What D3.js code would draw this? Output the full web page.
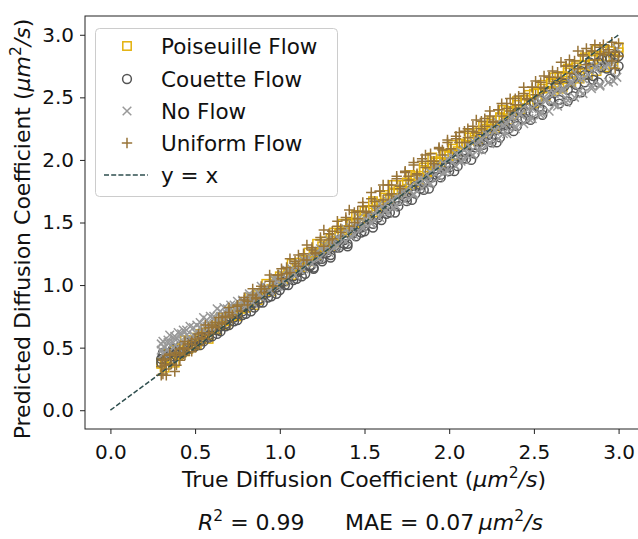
<!DOCTYPE html>
<html>
<head>
<meta charset="utf-8">
<script src="https://cdn.jsdelivr.net/npm/d3@7/dist/d3.min.js"></script>
<style>
html,body{margin:0;padding:0;background:#fff;}
svg{display:block;font-family:"DejaVu Sans",sans-serif;}
text{white-space:pre;}
</style>
</head>
<body>
<svg id="chart" width="638" height="539"></svg>
<script>
// ---------- data ----------
const seriesNames = ["Poiseuille Flow", "Couette Flow", "No Flow", "Uniform Flow"];
const tickValues = [0.0, 0.5, 1.0, 1.5, 2.0, 2.5, 3.0];
const identityLine = [[0, 0], [3, 3]];

// true values (x) and two runs of predictions (y) per flow type
const poiseuilleX = [0.30,0.32,0.34,0.36,0.38,0.40,0.42,0.44,0.46,0.49,0.51,0.53,0.56,0.58,0.60,0.63,0.65,0.68,0.70,0.72,0.75,0.77,0.80,0.82,0.85,0.87,0.90,0.92,0.95,0.97,1.00,1.02,1.05,1.07,1.10,1.12,1.15,1.17,1.20,1.22,1.25,1.27,1.30,1.32,1.35,1.37,1.40,1.42,1.45,1.47,1.50,1.52,1.55,1.57,1.60,1.62,1.65,1.67,1.70,1.72,1.75,1.77,1.80,1.82,1.85,1.87,1.90,1.92,1.95,1.97,2.00,2.02,2.05,2.07,2.10,2.12,2.15,2.17,2.20,2.22,2.25,2.27,2.30,2.32,2.35,2.37,2.40,2.42,2.45,2.47,2.50,2.52,2.55,2.57,2.60,2.62,2.65,2.67,2.70,2.72,2.75,2.77,2.80,2.82,2.85,2.87,2.90,2.92,2.95,2.97,3.00];
const poiseuilleYa = [0.37,0.41,0.45,0.40,0.48,0.44,0.50,0.47,0.55,0.53,0.58,0.56,0.62,0.60,0.66,0.64,0.68,0.72,0.71,0.77,0.76,0.81,0.82,0.85,0.90,0.88,0.94,0.95,0.97,1.03,1.02,1.06,1.09,1.08,1.15,1.14,1.20,1.19,1.26,1.24,1.31,1.29,1.37,1.34,1.41,1.42,1.44,1.50,1.49,1.55,1.53,1.60,1.58,1.65,1.63,1.70,1.69,1.74,1.76,1.75,1.82,1.80,1.87,1.85,1.92,1.91,1.96,1.99,1.98,2.04,2.03,2.09,2.07,2.13,2.12,2.18,2.16,2.22,2.21,2.25,2.29,2.27,2.34,2.31,2.39,2.36,2.44,2.40,2.48,2.44,2.53,2.48,2.57,2.52,2.62,2.55,2.66,2.58,2.70,2.62,2.74,2.65,2.76,2.68,2.80,2.71,2.83,2.74,2.82,2.77,2.86];
const poiseuilleYb = [0.38,0.34,0.45,0.41,0.38,0.49,0.46,0.56,0.49,0.56,0.52,0.61,0.60,0.57,0.67,0.65,0.74,0.68,0.75,0.80,0.75,0.83,0.82,0.90,0.84,0.92,0.93,1.01,0.95,1.01,1.07,1.03,1.10,1.17,1.12,1.18,1.15,1.26,1.24,1.33,1.28,1.35,1.31,1.42,1.40,1.49,1.42,1.49,1.56,1.50,1.59,1.54,1.67,1.63,1.61,1.72,1.69,1.80,1.73,1.80,1.77,1.88,1.85,1.82,1.94,1.90,2.02,1.98,1.96,2.05,2.04,2.12,2.04,2.13,2.12,2.21,2.18,2.15,2.27,2.23,2.31,2.25,2.34,2.40,2.32,2.39,2.47,2.38,2.48,2.52,2.45,2.54,2.60,2.51,2.61,2.66,2.57,2.67,2.73,2.63,2.76,2.67,2.82,2.70,2.83,2.88,2.76,2.88,2.87,2.81,2.90];

const couetteX = [0.30,0.31,0.33,0.35,0.37,0.39,0.41,0.43,0.46,0.48,0.50,0.53,0.55,0.58,0.60,0.63,0.65,0.68,0.70,0.73,0.75,0.78,0.80,0.83,0.85,0.88,0.90,0.93,0.95,0.98,1.00,1.03,1.05,1.08,1.10,1.13,1.15,1.18,1.20,1.23,1.25,1.28,1.30,1.33,1.35,1.38,1.40,1.43,1.45,1.48,1.50,1.53,1.55,1.58,1.60,1.63,1.65,1.68,1.70,1.73,1.75,1.78,1.80,1.83,1.85,1.88,1.90,1.93,1.95,1.98,2.00,2.03,2.05,2.08,2.10,2.13,2.15,2.18,2.20,2.23,2.25,2.28,2.30,2.33,2.35,2.38,2.40,2.43,2.45,2.48,2.50,2.53,2.55,2.58,2.60,2.63,2.65,2.68,2.70,2.73,2.75,2.78,2.80,2.83,2.85,2.88,2.90,2.93,2.95,2.98,3.00];
const couetteYa = [0.41,0.44,0.40,0.46,0.43,0.48,0.46,0.50,0.49,0.53,0.51,0.56,0.55,0.60,0.59,0.64,0.63,0.69,0.68,0.74,0.72,0.79,0.77,0.84,0.82,0.89,0.86,0.94,0.91,0.98,0.96,1.03,1.00,1.07,1.05,1.12,1.09,1.16,1.14,1.21,1.19,1.26,1.24,1.32,1.30,1.36,1.33,1.42,1.39,1.46,1.43,1.52,1.49,1.56,1.52,1.61,1.58,1.67,1.63,1.71,1.67,1.76,1.73,1.80,1.76,1.86,1.82,1.90,1.86,1.95,1.91,2.00,1.95,2.04,2.01,2.11,2.05,2.14,2.09,2.20,2.14,2.24,2.18,2.28,2.25,2.35,2.27,2.38,2.33,2.44,2.37,2.48,2.40,2.52,2.48,2.58,2.48,2.61,2.47,2.65,2.60,2.71,2.62,2.74,2.64,2.78,2.74,2.81,2.65,2.84,2.75];
const couetteYb = [0.38,0.46,0.43,0.39,0.49,0.46,0.51,0.46,0.54,0.50,0.55,0.52,0.58,0.58,0.64,0.61,0.67,0.67,0.73,0.71,0.77,0.76,0.83,0.79,0.86,0.86,0.92,0.90,0.96,0.93,1.01,1.00,1.07,1.04,1.10,1.07,1.16,1.15,1.13,1.23,1.21,1.28,1.22,1.30,1.36,1.33,1.31,1.41,1.45,1.42,1.47,1.54,1.46,1.54,1.60,1.57,1.63,1.58,1.67,1.73,1.70,1.68,1.79,1.77,1.82,1.77,1.86,1.93,1.88,1.96,1.94,1.91,2.03,2.01,2.06,2.00,2.10,2.17,2.12,2.20,2.17,2.14,2.27,2.24,2.29,2.23,2.38,2.33,2.38,2.32,2.46,2.42,2.36,2.52,2.47,2.60,2.45,2.59,2.56,2.51,2.67,2.54,2.68,2.78,2.67,2.62,2.80,2.73,2.81,2.70,2.83];

const noFlowX = [0.30,0.31,0.32,0.34,0.35,0.37,0.38,0.40,0.42,0.43,0.45,0.47,0.49,0.51,0.53,0.55,0.57,0.59,0.61,0.63,0.65,0.67,0.69,0.71,0.73,0.75,0.78,0.80,0.82,0.84,0.87,0.89,0.92,0.94,0.97,0.99,1.02,1.04,1.07,1.09,1.12,1.14,1.17,1.19,1.22,1.24,1.27,1.29,1.32,1.34,1.37,1.39,1.42,1.44,1.47,1.49,1.52,1.54,1.57,1.59,1.62,1.64,1.67,1.69,1.72,1.74,1.77,1.79,1.82,1.84,1.87,1.89,1.92,1.94,1.97,1.99,2.02,2.04,2.07,2.09,2.12,2.14,2.17,2.19,2.22,2.24,2.27,2.29,2.32,2.34,2.37,2.39,2.42,2.44,2.47,2.49,2.52,2.54,2.57,2.59,2.62,2.64,2.67,2.69,2.72,2.74,2.77,2.79,2.82,2.84,2.87,2.89,2.92,2.94,2.97,2.99];
const noFlowYa = [0.53,0.45,0.50,0.56,0.47,0.54,0.59,0.50,0.61,0.55,0.64,0.58,0.66,0.61,0.70,0.64,0.72,0.67,0.75,0.70,0.79,0.73,0.81,0.76,0.84,0.80,0.88,0.83,0.91,0.86,0.94,0.90,0.98,0.95,1.04,0.99,1.08,1.05,1.13,1.08,1.17,1.13,1.22,1.17,1.27,1.22,1.31,1.26,1.36,1.31,1.41,1.35,1.46,1.40,1.51,1.45,1.55,1.49,1.60,1.54,1.65,1.58,1.69,1.63,1.74,1.67,1.79,1.72,1.83,1.77,1.88,1.81,1.93,1.86,1.97,1.91,2.02,1.95,2.06,2.00,2.11,2.04,2.15,2.08,2.20,2.13,2.24,2.17,2.28,2.21,2.33,2.25,2.37,2.29,2.41,2.33,2.45,2.36,2.49,2.39,2.53,2.43,2.57,2.46,2.61,2.50,2.65,2.53,2.68,2.57,2.72,2.60,2.75,2.62,2.78,2.66];
const noFlowYb = [0.48,0.55,0.46,0.54,0.60,0.50,0.57,0.62,0.54,0.64,0.60,0.67,0.60,0.68,0.66,0.74,0.67,0.75,0.73,0.81,0.75,0.82,0.77,0.84,0.79,0.87,0.87,0.85,0.93,0.91,0.91,0.99,0.98,0.96,1.06,1.04,1.03,1.12,1.10,1.16,1.12,1.20,1.19,1.27,1.21,1.29,1.28,1.36,1.30,1.38,1.37,1.45,1.39,1.47,1.54,1.47,1.56,1.50,1.59,1.65,1.59,1.67,1.62,1.70,1.77,1.72,1.79,1.73,1.85,1.83,1.82,1.90,1.96,1.91,1.90,2.01,1.98,2.05,1.99,2.08,2.06,2.15,2.08,2.16,2.22,2.14,2.23,2.30,2.21,2.29,2.35,2.27,2.36,2.43,2.33,2.41,2.49,2.38,2.47,2.54,2.44,2.57,2.55,2.49,2.63,2.70,2.55,2.65,2.74,2.59,2.75,2.59,2.87,2.76,2.63,2.89];

const uniformX = [0.30,0.31,0.32,0.33,0.35,0.36,0.38,0.39,0.41,0.43,0.44,0.46,0.48,0.50,0.52,0.54,0.56,0.58,0.60,0.62,0.64,0.66,0.68,0.70,0.72,0.75,0.77,0.79,0.81,0.84,0.86,0.89,0.91,0.94,0.96,0.99,1.01,1.04,1.06,1.09,1.11,1.14,1.16,1.19,1.21,1.24,1.26,1.29,1.31,1.34,1.36,1.39,1.41,1.44,1.46,1.49,1.51,1.54,1.56,1.59,1.61,1.64,1.66,1.69,1.71,1.74,1.76,1.79,1.81,1.84,1.86,1.89,1.91,1.94,1.96,1.99,2.01,2.04,2.06,2.09,2.11,2.14,2.16,2.19,2.21,2.24,2.26,2.29,2.31,2.34,2.36,2.39,2.41,2.44,2.46,2.49,2.51,2.54,2.56,2.59,2.61,2.64,2.66,2.69,2.71,2.74,2.76,2.79,2.81,2.84,2.86,2.89,2.91,2.94,2.96,2.98,3.00];
const uniformYa = [0.35,0.29,0.41,0.33,0.44,0.37,0.31,0.46,0.40,0.50,0.44,0.53,0.47,0.57,0.52,0.62,0.57,0.66,0.62,0.70,0.66,0.74,0.70,0.78,0.74,0.83,0.79,0.88,0.84,0.92,0.89,0.97,0.94,1.03,0.99,1.08,1.05,1.14,1.10,1.19,1.15,1.25,1.20,1.30,1.26,1.36,1.31,1.41,1.37,1.47,1.42,1.52,1.47,1.58,1.53,1.63,1.58,1.69,1.63,1.75,1.68,1.80,1.73,1.85,1.79,1.91,1.84,1.96,1.89,2.01,1.94,2.05,1.99,2.10,2.04,2.14,2.09,2.19,2.14,2.23,2.18,2.27,2.22,2.31,2.27,2.35,2.31,2.40,2.35,2.45,2.39,2.49,2.44,2.53,2.48,2.58,2.52,2.62,2.57,2.66,2.61,2.70,2.65,2.75,2.69,2.79,2.73,2.83,2.76,2.87,2.80,2.90,2.84,2.88,2.79,2.73,2.83];
const uniformYb = [0.28,0.40,0.36,0.28,0.45,0.37,0.44,0.36,0.49,0.45,0.55,0.49,0.55,0.50,0.61,0.58,0.68,0.60,0.68,0.67,0.74,0.69,0.75,0.82,0.76,0.84,0.79,0.90,0.87,0.97,0.90,0.99,0.97,1.08,0.99,1.08,1.13,1.09,1.21,1.17,1.24,1.20,1.32,1.28,1.25,1.38,1.44,1.36,1.43,1.51,1.45,1.54,1.60,1.50,1.59,1.66,1.59,1.74,1.67,1.75,1.80,1.72,1.80,1.87,1.77,1.90,1.87,1.98,1.88,1.99,2.04,1.99,1.97,2.09,2.08,2.16,2.09,2.17,2.22,2.14,2.25,2.23,2.32,2.25,2.33,2.39,2.30,2.40,2.45,2.41,2.49,2.44,2.51,2.58,2.49,2.58,2.63,2.58,2.67,2.66,2.71,2.66,2.78,2.75,2.80,2.75,2.87,2.84,2.89,2.87,2.92,2.85,2.92,2.86,2.94,2.86,2.93];

// ---------- layout ----------
const svg = d3.select("#chart");
const M = { left: 85, right: 644, top: 16, bottom: 429 };
const x = d3.scaleLinear().domain([-0.15, 3.15]).range([M.left, M.right]);
const y = d3.scaleLinear().domain([-0.15, 3.15]).range([M.bottom, M.top]);

const colors = {
  "Poiseuille Flow": "#e3b10b",
  "Couette Flow": "#555555",
  "No Flow": "#999999",
  "Uniform Flow": "#987438"
};
const lineColor = "#2f4f4f";

const zip = (xs, ys) => xs.map((v, i) => [v, ys[i]]).filter(d => d[1] !== undefined);
const seriesData = {
  "Poiseuille Flow": zip(poiseuilleX, poiseuilleYa).concat(zip(poiseuilleX, poiseuilleYb)),
  "Couette Flow": zip(couetteX, couetteYa).concat(zip(couetteX, couetteYb)),
  "No Flow": zip(noFlowX, noFlowYa).concat(zip(noFlowX, noFlowYb)),
  "Uniform Flow": zip(uniformX, uniformYa).concat(zip(uniformX, uniformYb))
};

const SW = 1.5;
function drawMarker(g, name, cx, cy) {
  const c = colors[name];
  if (name === "Poiseuille Flow") {
    g.append("rect").attr("x", cx - 4.2).attr("y", cy - 4.2).attr("width", 8.4).attr("height", 8.4)
      .attr("fill", "none").attr("stroke", c).attr("stroke-width", SW);
  } else if (name === "Couette Flow") {
    g.append("circle").attr("cx", cx).attr("cy", cy).attr("r", 4.4)
      .attr("fill", "none").attr("stroke", c).attr("stroke-width", SW);
  } else if (name === "No Flow") {
    const s = 4.3;
    g.append("path").attr("d", `M${cx - s},${cy - s}L${cx + s},${cy + s}M${cx - s},${cy + s}L${cx + s},${cy - s}`)
      .attr("stroke", c).attr("stroke-width", SW).attr("fill", "none");
  } else {
    const s = 5.2;
    g.append("path").attr("d", `M${cx - s},${cy}L${cx + s},${cy}M${cx},${cy - s}L${cx},${cy + s}`)
      .attr("stroke", c).attr("stroke-width", SW).attr("fill", "none");
  }
}

// points
const pts = svg.append("g");
seriesNames.forEach(name => {
  const g = pts.append("g");
  seriesData[name].forEach(d => drawMarker(g, name, x(d[0]), y(d[1])));
});

// y = x line
svg.append("path")
  .attr("d", d3.line().x(d => x(d[0])).y(d => y(d[1]))(identityLine))
  .attr("stroke", lineColor).attr("stroke-width", 1.5).attr("fill", "none")
  .attr("stroke-dasharray", "5,2.2");

// spines
svg.append("rect").attr("x", M.left).attr("y", M.top).attr("width", M.right - M.left).attr("height", M.bottom - M.top)
  .attr("fill", "none").attr("stroke", "#222").attr("stroke-width", 1);

// axes
const xAxis = svg.append("g").attr("transform", `translate(0,${M.bottom})`)
  .call(d3.axisBottom(x).tickValues(tickValues).tickFormat(d3.format(".1f")).tickSize(5).tickPadding(6));
const yAxis = svg.append("g").attr("transform", `translate(${M.left},0)`)
  .call(d3.axisLeft(y).tickValues(tickValues).tickFormat(d3.format(".1f")).tickSize(5).tickPadding(6));
[xAxis, yAxis].forEach(a => {
  a.select(".domain").remove();
  a.selectAll("line").attr("stroke", "#222");
  a.selectAll("text").attr("font-family", "DejaVu Sans").attr("font-size", 20).attr("fill", "#111");
});
xAxis.selectAll("text").attr("dy", "0.95em");

// axis labels
const xl = svg.append("text").attr("x", 364).attr("y", 487)
  .attr("text-anchor", "middle").attr("font-size", 22).attr("fill", "#111");
xl.append("tspan").text("True Diffusion Coefficient (");
xl.append("tspan").attr("font-style", "italic").text("μm");
xl.append("tspan").attr("font-size", 15.5).attr("dy", -9).text("2");
xl.append("tspan").attr("font-style", "italic").attr("dy", 9).text("/s");
xl.append("tspan").text(")");

const yl = svg.append("text").attr("transform", `translate(30,229) rotate(-90)`)
  .attr("text-anchor", "middle").attr("font-size", 22).attr("fill", "#111");
yl.append("tspan").text("Predicted Diffusion Coefficient (");
yl.append("tspan").attr("font-style", "italic").text("μm");
yl.append("tspan").attr("font-size", 15.5).attr("dy", -9).text("2");
yl.append("tspan").attr("font-style", "italic").attr("dy", 9).text("/s");
yl.append("tspan").text(")");

// annotation
const an1 = svg.append("text").attr("x", 198).attr("y", 530).attr("font-size", 22).attr("fill", "#111");
an1.append("tspan").attr("font-style", "italic").text("R");
an1.append("tspan").attr("font-size", 15.5).attr("dy", -9).text("2");
an1.append("tspan").attr("dy", 9).text(" = 0.99");
const an2 = svg.append("text").attr("x", 345).attr("y", 530).attr("font-size", 22).attr("fill", "#111");
an2.append("tspan").text("MAE = 0.07\u2009");
an2.append("tspan").attr("font-style", "italic").text("μm");
an2.append("tspan").attr("font-size", 15.5).attr("dy", -9).text("2");
an2.append("tspan").attr("font-style", "italic").attr("dy", 9).text("/s");

// legend
const lg = svg.append("g");
lg.append("rect").attr("x", 95.5).attr("y", 28.5).attr("width", 242).attr("height", 168).attr("rx", 4)
  .attr("fill", "#fff").attr("fill-opacity", 0.8).attr("stroke", "#cccccc").attr("stroke-width", 1);
const rowY = [46, 79, 111, 143, 175];
seriesNames.forEach((name, i) => {
  drawMarker(lg, name, 127, rowY[i]);
  lg.append("text").attr("x", 161).attr("y", rowY[i]).attr("dy", "0.36em")
    .attr("font-size", 21.5).attr("fill", "#111").text(name);
});
lg.append("line").attr("x1", 104).attr("x2", 148).attr("y1", rowY[4]).attr("y2", rowY[4])
  .attr("stroke", lineColor).attr("stroke-width", 1.5).attr("stroke-dasharray", "5,2.2");
lg.append("text").attr("x", 161).attr("y", rowY[4]).attr("dy", "0.36em")
  .attr("font-size", 21.5).attr("fill", "#111").text("y = x");
</script>
</body>
</html>
